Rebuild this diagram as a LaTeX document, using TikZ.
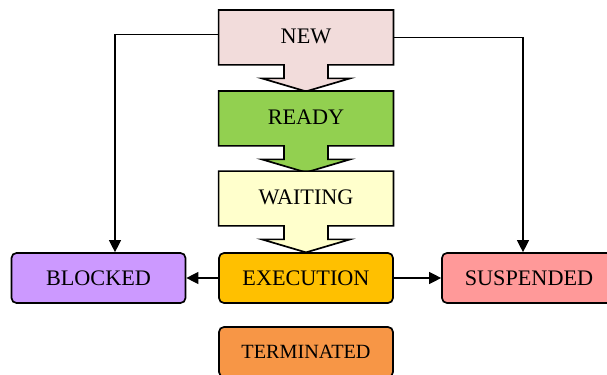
\documentclass[tikz,border=0pt]{standalone}
\usepackage{fontspec}
\setmainfont{Liberation Serif}
\usetikzlibrary{arrows.meta,backgrounds}

\definecolor{newpink}{HTML}{F2DCDB}
\definecolor{readygreen}{HTML}{92D050}
\definecolor{waityellow}{HTML}{FFFFCC}
\definecolor{execorange}{HTML}{FFC000}
\definecolor{termorange}{HTML}{F79646}
\definecolor{blockpurple}{HTML}{CC99FF}
\definecolor{susppink}{HTML}{FF9999}

\tikzset{
  state/.style={minimum width=87pt,minimum height=27pt,inner sep=0pt,
    font=\fontsize{11.1}{12}\selectfont},
  roundstate/.style={state,draw,line width=0.85pt,rounded corners=2.5pt,
    minimum height=25pt},
  conn/.style={line width=0.65pt,-{Triangle[length=6pt,width=6pt]}}
}

% box with a fat arrow hanging from its bottom edge
\newcommand{\arrowbox}[2]{%
  \filldraw[fill=#2,line width=0.85pt,line join=miter]
    (#1.north west) -- (#1.north east) -- (#1.south east)
    -- ([xshift=11pt]#1.south) -- ([xshift=11pt,yshift=-6.75pt]#1.south)
    -- ([xshift=22pt,yshift=-6.75pt]#1.south) -- ([yshift=-13.25pt]#1.south)
    -- ([xshift=-22pt,yshift=-6.75pt]#1.south) -- ([xshift=-11pt,yshift=-6.75pt]#1.south)
    -- ([xshift=-11pt]#1.south) -- (#1.south west) -- cycle;}

\begin{document}
\begin{tikzpicture}[x=0.5pt,y=-0.5pt]
\path[use as bounding box,clip] (0,0) rectangle (607,375);
% MAIN COLUMN
\node[state] (new) at (306,37.5) {\raisebox{1pt}{NEW}};
\node[state] (ready) at (306,118.5) {\raisebox{1pt}{READY}};
\node[state] (waiting) at (306,198.5) {\raisebox{1pt}{WAITING}};
\begin{scope}[on background layer]
\arrowbox{new}{newpink}
\arrowbox{ready}{readygreen}
\arrowbox{waiting}{waityellow}
\end{scope}
\node[roundstate,fill=execorange] (execution) at (306,278) {EXECUTION};
\node[roundstate,fill=termorange,font=\fontsize{10.1}{12}\selectfont] (terminated) at (306,352) {TERMINATED};
% SIDE STATES
\node[roundstate,fill=blockpurple] (blocked) at (98.5,278) {BLOCKED};
\node[roundstate,fill=susppink] (suspended) at (529,278) {SUSPENDED};
% CONNECTORS
\draw[conn] ([yshift=1.5pt]new.west) -| ([xshift=8.25pt]blocked.north);
\draw[conn] (new.east) -| ([xshift=-3pt]suspended.north);
\draw[conn] (execution.west) -- (blocked.east);
\draw[conn] (execution.east) -- (suspended.west);
\end{tikzpicture}
\end{document}
